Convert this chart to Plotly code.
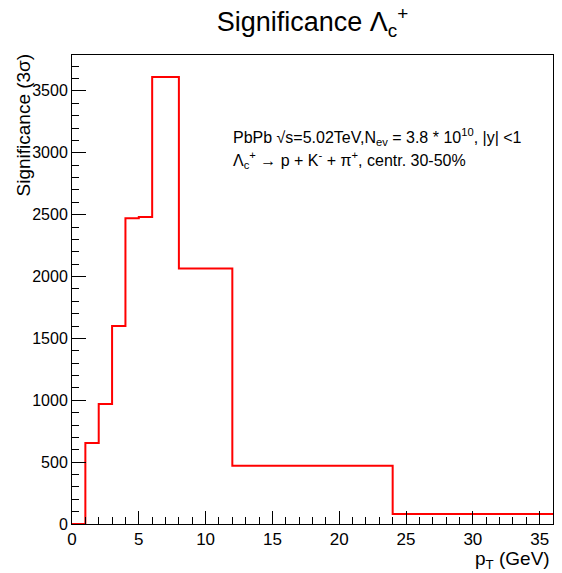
import plotly.graph_objects as go

# Data
bin_edges = [0, 1, 2, 3, 4, 5, 6, 8, 12, 24, 36]
significance = [0, 655, 970, 1600, 2470, 2480, 3613, 2065, 470, 80]

x_step = bin_edges
y_step = significance + [significance[-1]]

fig = go.Figure()
fig.add_trace(go.Scatter(
    x=x_step, y=y_step, mode="lines", line_shape="hv",
    line=dict(color="#ff0000", width=2), showlegend=False, hoverinfo="skip"))

font_family = "Liberation Sans, Arial, sans-serif"

axis_common = dict(
    showgrid=False, zeroline=False, showline=True, linecolor="black", linewidth=1,
    mirror=True, ticks="inside", tickcolor="black",
)

fig.update_xaxes(range=[0, 36], tickvals=[0, 5, 10, 15, 20, 25, 30, 35], ticklen=13,
                 tickfont=dict(family=font_family, size=17, color="black"),
                 minor=dict(dtick=1, ticks="inside", ticklen=7, tickcolor="black", showgrid=False),
                 **axis_common)
fig.update_yaxes(range=[0, 3790], tickvals=[0, 500, 1000, 1500, 2000, 2500, 3000, 3500], ticklen=14,
                 tickfont=dict(family=font_family, size=16, color="black"),
                 minor=dict(dtick=100, ticks="inside", ticklen=7, tickcolor="black", showgrid=False),
                 **axis_common)

fig.update_layout(
    width=562, height=573,
    margin=dict(l=72, r=9, t=55, b=49),
    paper_bgcolor="white", plot_bgcolor="white",
    font=dict(family=font_family, color="black"),
    title=dict(text="Significance Λ<sub>c</sub><sup>+</sup>", x=0.556, xanchor="center",
               y=1 - 22 / 573, yanchor="middle", font=dict(size=27, family=font_family)),
)

fig.add_annotation(text="Significance (3σ)", textangle=-90, xref="paper", yref="paper",
                   x=-49 / 481, y=1 + 3 / 469, xanchor="center", yanchor="top", showarrow=False,
                   font=dict(size=19, family=font_family))
fig.add_annotation(text="p<sub>T</sub> (GeV)", xref="paper", yref="paper",
                   x=1 - 2 / 481, y=-23 / 469, xanchor="right", yanchor="top", showarrow=False,
                   borderpad=0, font=dict(size=19, family=font_family))
fig.add_annotation(text="PbPb √s=5.02TeV,N<sub>ev</sub> = 3.8 * 10<sup>10</sup>, |y| <1",
                   xref="paper", yref="paper", x=(231 - 72) / 481, y=(524 - 137) / 469,
                   xanchor="left", yanchor="middle", showarrow=False,
                   font=dict(size=16, family=font_family))
fig.add_annotation(text="Λ<sub>c</sub><sup>+</sup> → p + K<sup>-</sup> + π<sup>+</sup>, centr. 30-50%",
                   xref="paper", yref="paper", x=(231 - 72) / 481, y=(524 - 160) / 469,
                   xanchor="left", yanchor="middle", showarrow=False,
                   font=dict(size=16, family=font_family))

fig.write_html("out.html")
